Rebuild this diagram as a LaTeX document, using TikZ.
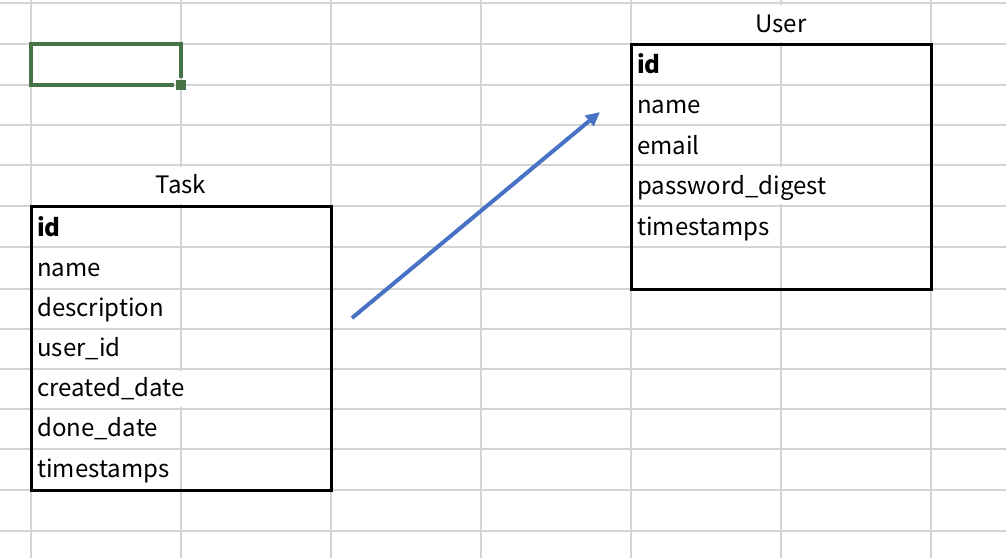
\documentclass[tikz,border=0pt]{standalone}
\usepackage{fontspec}
\setmainfont{Noto Sans CJK JP}
\usepackage{tikz}
\usetikzlibrary{arrows.meta}
\definecolor{gridgray}{RGB}{212,212,212}
\definecolor{selgreen}{RGB}{70,116,70}
\definecolor{relblue}{RGB}{72,114,196}
\tikzstyle{gridline} = [draw=gridgray, line width=1.8pt]
\tikzstyle{tablebox} = [draw, line width=3pt, inner sep=0pt, outer sep=0pt, anchor=north west]
\tikzstyle{field} = [anchor=base west, inner sep=0pt]
\tikzstyle{tabletitle} = [anchor=base, inner sep=0pt]

\begin{document}
\begin{tikzpicture}[x=1pt, y=-1pt, >={Triangle[length=14pt,width=13pt]}, font=\fontsize{24}{28}\selectfont]

    \useasboundingbox (0,0) rectangle (1006,558);

    %sheet grid
    \foreach \x in {31,181,...,931}
        \draw[gridline] (\x,0) -- (\x,558);
    \foreach \y in {3,44,85,125,165,206,247,289,329,369,409,449,490,531}
        \draw[gridline] (0,\y) -- (1006,\y);
    \foreach \x/\ya/\yb in {181/165/206, 181/369/409, 781/3/44, 781/165/206}
        \fill[white] (\x-2,\ya+2) rectangle (\x+2,\yb-2);

    %selected cell
    \draw[selgreen, line width=3.6pt] (174,85) -- (31,85) -- (31,44) -- (181,44) -- (181,78);
    \fill[selgreen] (176,80) rectangle (186,90);

    %task
    \node[tablebox, minimum width=300pt, minimum height=284pt] at (31,206) (task) {};
    \node[tabletitle] at (181,193) (tasktitle) {Task};
    \foreach \fld [count=\i from 0] in {\textbf{id}, name, description, user\_id, created\_date, done\_date, timestamps}
      {
        \node[field] at (37,236+40.17*\i) (taskf\i) {\fld};
      }

    %user
    \node[tablebox, minimum width=300pt, minimum height=245pt] at (631,44) (user) {};
    \node[tabletitle] at (781,32) (usertitle) {User};
    \foreach \fld [count=\i from 0] in {\textbf{id}, name, email, password\_digest, timestamps}
      {
        \node[field] at (637,73+40.5*\i) (userf\i) {\fld};
      }

    %relation
    \coordinate (relfrom) at (352,318);
    \coordinate (relto) at (600,112);
    \draw[->, relblue, line width=4pt] (relfrom) -- (relto);

  \end{tikzpicture}
\end{document}
